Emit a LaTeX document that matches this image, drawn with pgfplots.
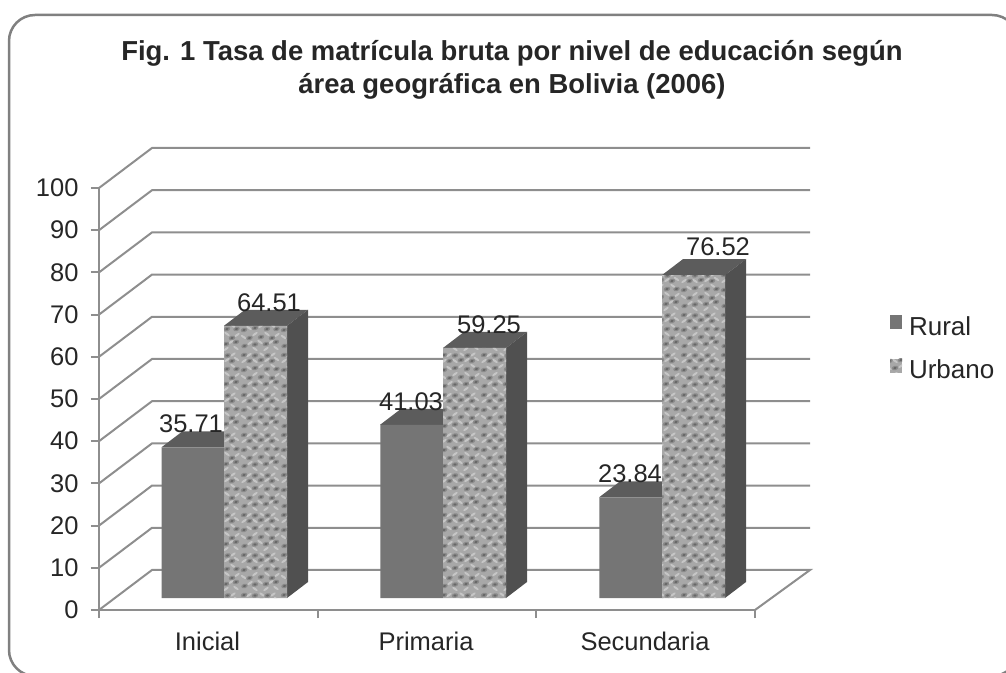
\documentclass[border=0pt]{standalone}
\usepackage{fontspec}
\setmainfont{Liberation Sans}
\usepackage{pgfplots}
\pgfplotsset{compat=1.18}
\usetikzlibrary{patterns}
\definecolor{gridc}{HTML}{8E8E8E}
\definecolor{framec}{HTML}{808080}
\definecolor{ruralf}{HTML}{757575}
\definecolor{topc}{HTML}{5C5C5C}
\definecolor{sidec}{HTML}{505050}
\definecolor{mbase}{HTML}{A8A8A8}
\definecolor{mdark}{HTML}{676767}
\definecolor{mmid}{HTML}{8A8A8A}
\definecolor{mlight}{HTML}{C6C6C6}
\newcommand\mblob[7]{\pgfsetfillcolor{#1}\pgfpathellipse{\pgfqpoint{#2pt}{#3pt}}{\pgfqpoint{#4pt}{#5pt}}{\pgfqpoint{#6pt}{#7pt}}\pgfusepath{fill}}
\newcommand\db[2]{\mblob{mmid}{#1}{#2}{3.2}{0.8}{-0.5}{2.2}\mblob{mdark}{#1}{#2}{1.7}{0.4}{-0.3}{1.2}}
\newcommand\la[2]{\mblob{mlight}{#1}{#2}{2.6}{1.9}{-0.6}{0.9}}
\newcommand\lb[2]{\mblob{mlight}{#1}{#2}{2.6}{-1.9}{0.6}{0.9}}
\pgfdeclarepatterninherentlycolored{mottled}{\pgfqpoint{-0.3pt}{-0.3pt}}{\pgfqpoint{40.3pt}{40.3pt}}{\pgfqpoint{40pt}{40pt}}{%
  \la{10}{9}\lb{20}{10}\la{31}{10}\lb{3.5}{15}\la{15}{18}\lb{27}{18}\la{37}{17}%
  \lb{9}{24}\la{21}{26}\lb{33}{26}\la{4}{31}\lb{15}{31}\la{27}{32}\lb{36.5}{33}%
  \la{9}{37}\lb{22}{37.5}\la{33}{37.5}\lb{15}{3}\la{26}{3}\lb{36}{4}%
  \db{4.5}{6}\db{15}{7.5}\db{26}{8}\db{36}{10}\db{9.5}{14}\db{21}{15}\db{32}{14}%
  \db{4}{22}\db{15}{24}\db{27}{23}\db{36.5}{23}\db{9.5}{31}\db{21}{32}\db{32}{31}\db{4}{37}\db{15}{36.5}\db{27.5}{36.5}%
}
\begin{document}
\begin{tikzpicture}[x=1pt,y=1pt]
\useasboundingbox (0,0) rectangle (1006,672);
\draw[framec,line width=2.5pt,rounded corners=26pt] (9,-4) rectangle (1018,657);
\begin{axis}[
  at={(99pt,62pt)},anchor=origin,
  scale only axis,width=656pt,height=422pt,
  xmin=99,xmax=755,ymin=0,ymax=100,clip=false,
  axis x line*=bottom,axis y line*=left,
  axis line style={gridc,line width=2pt,-},
  tick align=outside,major tick length=8pt,
  tick style={gridc,line width=2pt},
  ytick={0,10,...,100},
  xtick={99,317.67,536.33,755},xticklabels={,,,},
  extra x ticks={207.5,426,645},
  extra x tick labels={Inicial,Primaria,Secundaria},
  extra x tick style={major tick length=0pt,tick style={draw=none}},
  xticklabel style={yshift=-18pt},
  /pgf/number format/assume math mode=true,
  /pgf/number format/fixed,
  tick label style={font=\fontsize{25.5}{30}\selectfont,text=black!85},
  yticklabel style={xshift=-9pt},
  legend style={at={(1.2055,0.6205)},anchor=west,draw=none,fill=none,
    font=\fontsize{26}{30}\selectfont,text=black!85,row sep=19pt,
    inner sep=0pt,legend cell align=left,/tikz/column 1/.style={column sep=5pt}},
  legend image code/.code={\path[#1,draw=none] (0pt,-15pt) rectangle (12pt,-1pt);},
]
% back wall and left wall grid
\addplot[gridc,line width=2pt,forget plot] coordinates {(99,0)(152,9.48)(810,9.48)(755,0)};
\addplot[gridc,line width=2pt,forget plot] coordinates {(99,10)(152,19.48)(810,19.48)};
\addplot[gridc,line width=2pt,forget plot] coordinates {(99,20)(152,29.48)(810,29.48)};
\addplot[gridc,line width=2pt,forget plot] coordinates {(99,30)(152,39.48)(810,39.48)};
\addplot[gridc,line width=2pt,forget plot] coordinates {(99,40)(152,49.48)(810,49.48)};
\addplot[gridc,line width=2pt,forget plot] coordinates {(99,50)(152,59.48)(810,59.48)};
\addplot[gridc,line width=2pt,forget plot] coordinates {(99,60)(152,69.48)(810,69.48)};
\addplot[gridc,line width=2pt,forget plot] coordinates {(99,70)(152,79.48)(810,79.48)};
\addplot[gridc,line width=2pt,forget plot] coordinates {(99,80)(152,89.48)(810,89.48)};
\addplot[gridc,line width=2pt,forget plot] coordinates {(99,90)(152,99.48)(810,99.48)};
\addplot[gridc,line width=2pt,forget plot] coordinates {(99,100)(152,109.48)(810,109.48)};
% rural tops
\addplot[fill=topc,draw=none,yshift=12pt,forget plot] coordinates {(161.5,35.71)(182.5,39.50)(245,39.50)(224,35.71)} --cycle;
\addplot[fill=topc,draw=none,yshift=12pt,forget plot] coordinates {(380,41.03)(401,44.82)(464,44.82)(443,41.03)} --cycle;
\addplot[fill=topc,draw=none,yshift=12pt,forget plot] coordinates {(599,23.84)(620,27.63)(683,27.63)(662,23.84)} --cycle;
% urban tops and sides
\addplot[fill=topc,draw=none,yshift=12pt,forget plot] coordinates {(224,64.51)(245,68.30)(308,68.30)(287,64.51)} --cycle;
\addplot[fill=topc,draw=none,yshift=12pt,forget plot] coordinates {(443,59.25)(464,63.04)(527,63.04)(506,59.25)} --cycle;
\addplot[fill=topc,draw=none,yshift=12pt,forget plot] coordinates {(662,76.52)(683,80.31)(746,80.31)(725,76.52)} --cycle;
\addplot[fill=sidec,draw=none,yshift=12pt,forget plot] coordinates {(287,0)(308,3.79)(308,68.30)(287,64.51)} --cycle;
\addplot[fill=sidec,draw=none,yshift=12pt,forget plot] coordinates {(506,0)(527,3.79)(527,63.04)(506,59.25)} --cycle;
\addplot[fill=sidec,draw=none,yshift=12pt,forget plot] coordinates {(725,0)(746,3.79)(746,80.31)(725,76.52)} --cycle;
% fronts
\addplot[ybar,bar width=62.5pt,bar shift=0pt,fill=ruralf,draw=none,yshift=12pt] coordinates {(192.75,35.71)(411.5,41.03)(630.5,23.84)};
\addlegendentry{Rural}
\addplot[ybar,bar width=63pt,bar shift=0pt,preaction={fill=mbase},pattern=mottled,draw=none,yshift=12pt] coordinates {(255.5,64.51)(474.5,59.25)(693.5,76.52)};
\addlegendentry{Urbano}
% value labels
\addplot[only marks,mark=none,forget plot,nodes near coords,
  nodes near coords style={anchor=center,yshift=35.5pt,font=\fontsize{25.5}{30}\selectfont,text=black!85,
   /pgf/number format/fixed zerofill,/pgf/number format/precision=2}]
  coordinates {(191,35.71)(411,41.03)(630,23.84)(269,64.51)(489,59.25)};
\addplot[only marks,mark=none,forget plot,nodes near coords,
  nodes near coords style={anchor=center,yshift=40pt,font=\fontsize{25.5}{30}\selectfont,text=black!85,
   /pgf/number format/fixed zerofill,/pgf/number format/precision=2}]
  coordinates {(718,76.52)};
\end{axis}
\node[align=center,font=\bfseries\fontsize{27.45}{33}\selectfont,text=black!85] at (512,602.5) {Fig. 1 Tasa de matrícula bruta por nivel de educación según\\área geográfica en Bolivia (2006)};
\end{tikzpicture}
\end{document}
